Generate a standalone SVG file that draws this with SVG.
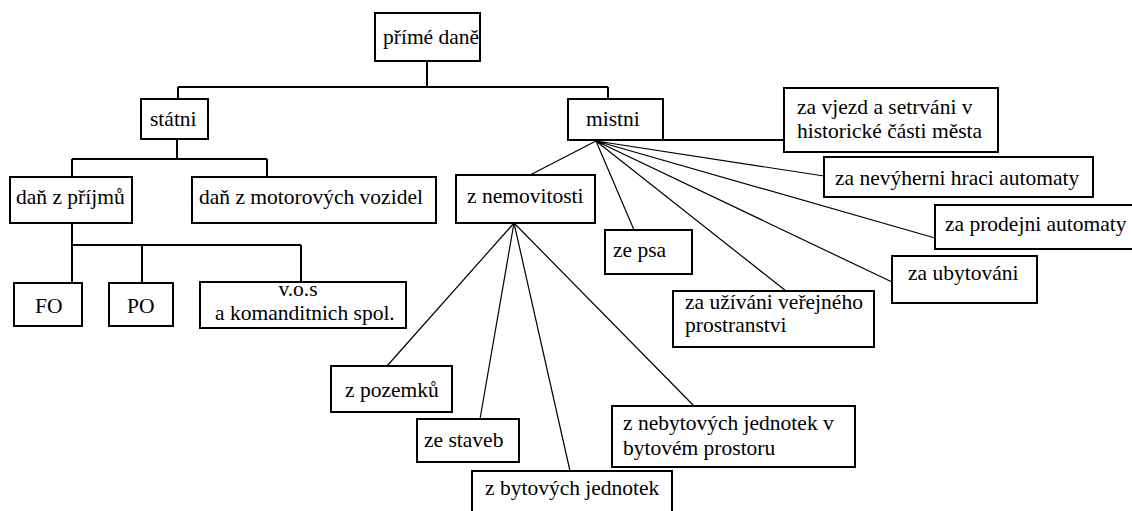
<svg xmlns="http://www.w3.org/2000/svg" width="1132" height="511" viewBox="0 0 1132 511">
<style>
.box{fill:#fff;stroke:#000;stroke-width:2}
.t{font-family:"Liberation Serif","Times New Roman",serif;font-size:21.5px;fill:#000}
.tree{fill:none;stroke:#000;stroke-width:2}
.fan{fill:none;stroke:#000;stroke-width:1.2}
</style>
<rect width="1132" height="511" fill="#fff"/>
<g id="connectors">
<path class="tree" d="M427,61V87M178,87H608M178,87V99M608,87V99"/>
<path class="tree" d="M177,139V159M72,159H267M72,159V177M267,159V177"/>
<path class="tree" d="M72,223V245M72,245H301M72,245V283M142,245V283M301,245V282"/>
<path class="tree" d="M663,140H784"/>
<path class="fan" d="M596,141L530,175M596,141L634,230M596,141L786,291M596,141L892,282M596,141L935,238M596,141L824,176"/>
<path class="fan" d="M514,223L387,366M514,223L480,419M514,223L570,471M514,223L694,406"/>
</g>
<g id="n-prime"><rect class="box" x="375" y="13" width="105" height="48"/><text class="t" x="383" y="44">přímé daně</text></g>
<g id="n-statni"><rect class="box" x="141" y="99" width="67" height="40"/><text class="t" x="150" y="126">státni</text></g>
<g id="n-mistni"><rect class="box" x="568" y="99" width="95" height="41"/><text class="t" x="586" y="126">mistni</text></g>
<g id="n-prijmu"><rect class="box" x="10" y="177" width="122" height="46"/><text class="t" x="16" y="204">daň z příjmů</text></g>
<g id="n-motor"><rect class="box" x="192" y="177" width="244" height="46"/><text class="t" x="199" y="204">daň z motorových vozidel</text></g>
<g id="n-fo"><rect class="box" x="14" y="283" width="68" height="43"/><text class="t" x="35" y="313">FO</text></g>
<g id="n-po"><rect class="box" x="109" y="283" width="64" height="43"/><text class="t" x="127" y="313">PO</text></g>
<g id="n-vos"><rect class="box" x="200" y="282" width="206" height="46"/><text class="t" x="298" y="296" text-anchor="middle">v.o.s</text><text class="t" x="215" y="320">a komanditnich spol.</text></g>
<g id="n-vjezd"><rect class="box" x="784" y="88" width="214" height="64"/><text class="t" x="797" y="114">za vjezd a setrváni v</text><text class="t" x="797" y="138">historické části města</text></g>
<g id="n-nevyherni"><rect class="box" x="824" y="157" width="269" height="40"/><text class="t" x="835" y="185">za nevýherni hraci automaty</text></g>
<g id="n-nemovitosti"><rect class="box" x="456" y="175" width="139" height="48"/><text class="t" x="467" y="203">z nemovitosti</text></g>
<g id="n-prodejni"><rect class="box" x="935" y="205" width="201" height="44"/><text class="t" x="945" y="231">za prodejni automaty</text></g>
<g id="n-psa"><rect class="box" x="605" y="230" width="87" height="44"/><text class="t" x="613" y="257">ze psa</text></g>
<g id="n-ubytovani"><rect class="box" x="892" y="256" width="145" height="47"/><text class="t" x="908" y="280">za ubytováni</text></g>
<g id="n-uzivani"><rect class="box" x="673" y="291" width="201" height="56"/><text class="t" x="685" y="309">za užíváni veřejného</text><text class="t" x="685" y="332">prostranstvi</text></g>
<g id="n-pozemku"><rect class="box" x="331" y="366" width="121" height="46"/><text class="t" x="345" y="397">z pozemků</text></g>
<g id="n-nebytovych"><rect class="box" x="612" y="406" width="243" height="61"/><text class="t" x="623" y="430">z nebytových jednotek v</text><text class="t" x="623" y="455">bytovém prostoru</text></g>
<g id="n-staveb"><rect class="box" x="417" y="419" width="102" height="43"/><text class="t" x="424" y="447">ze staveb</text></g>
<g id="n-bytovych"><rect class="box" x="472" y="471" width="200" height="46"/><text class="t" x="485" y="495">z bytových jednotek</text></g>
</svg>
